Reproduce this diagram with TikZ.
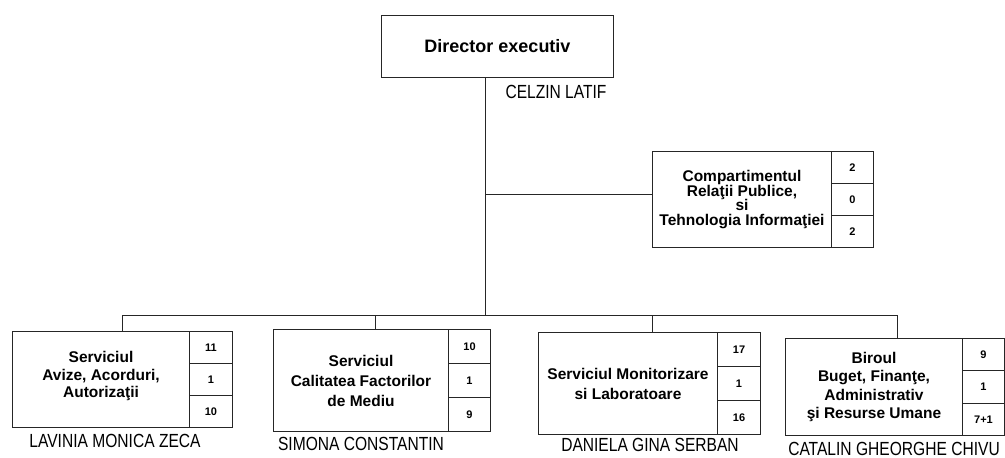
\documentclass[tikz,border=0pt]{standalone}
\usepackage{fontspec}
\setmainfont{Liberation Sans}
\newfontfamily\namefont[FakeStretch=0.82]{Liberation Sans}
\tikzset{
 line/.style={draw=black!85, line width=1pt},
 txtbox/.style={draw=black!85, line width=1pt, anchor=north west, inner sep=2pt, align=center, font=\bfseries\fontsize{15.5}{19}\selectfont},
 cell/.style={draw=black!85, line width=1pt, anchor=north west, inner sep=0pt, font=\bfseries\fontsize{11}{13}\selectfont},
 person/.style={font=\namefont\fontsize{19}{21}\selectfont, inner sep=0pt},
}
\begin{document}
\begin{tikzpicture}[x=1pt,y=-1pt]
\useasboundingbox (0,0) rectangle (1005,458);
% director
\node[txtbox, minimum width=232pt, minimum height=62pt, font=\bfseries\fontsize{18}{20}\selectfont] (dir) at (381,15) {Director executiv};
\node[person] (ndir) at (556,92) {CELZIN LATIF};
% compartiment
\node[txtbox, minimum width=179pt, minimum height=96pt, font=\bfseries\fontsize{15.5}{14.5}\selectfont] (comp) at (652,151) {Compartimentul\\Relaţii Publice,\\si\\Tehnologia Informaţiei};
\node[cell, minimum width=42pt, minimum height=32pt] (c1) at (831,151) {2};
\node[cell, minimum width=42pt, minimum height=32pt] (c2) at (831,183) {0};
\node[cell, minimum width=42pt, minimum height=32pt] (c3) at (831,215) {2};
% box 1
\node[txtbox, minimum width=177pt, minimum height=96pt, font=\bfseries\fontsize{15.5}{17.5}\selectfont] (b1) at (12,331) {Serviciul\\Avize, Acorduri,\\Autorizaţii\\[-8pt]};
\node[cell, minimum width=43pt, minimum height=32pt] (b1a) at (189,331) {11};
\node[cell, minimum width=43pt, minimum height=32pt] (b1b) at (189,363) {1};
\node[cell, minimum width=43pt, minimum height=32pt] (b1c) at (189,395) {10};
\node[person] (n1) at (115,441) {LAVINIA MONICA ZECA};
% box 2
\node[txtbox, minimum width=175pt, minimum height=102pt, font=\bfseries\fontsize{15.5}{20}\selectfont] (b2) at (273,329) {Serviciul\\Calitatea Factorilor\\de Mediu};
\node[cell, minimum width=42pt, minimum height=34pt] (b2a) at (448,329) {10};
\node[cell, minimum width=42pt, minimum height=34pt] (b2b) at (448,363) {1};
\node[cell, minimum width=42pt, minimum height=34pt] (b2c) at (448,397) {9};
\node[person] (n2) at (361,444) {SIMONA CONSTANTIN};
% box 3
\node[txtbox, minimum width=179pt, minimum height=102pt, font=\bfseries\fontsize{15.5}{20}\selectfont] (b3) at (538,332) {Serviciul Monitorizare\\si Laboratoare};
\node[cell, minimum width=43pt, minimum height=34pt] (b3a) at (717,332) {17};
\node[cell, minimum width=43pt, minimum height=34pt] (b3b) at (717,366) {1};
\node[cell, minimum width=43pt, minimum height=34pt] (b3c) at (717,400) {16};
\node[person] (n3) at (650,445) {DANIELA GINA SERBAN};
% box 4
\node[txtbox, minimum width=177pt, minimum height=97pt, font=\bfseries\fontsize{15.5}{18.5}\selectfont] (b4) at (785,338) {Biroul\\Buget, Finanţe,\\Administrativ\\şi Resurse Umane};
\node[cell, minimum width=42pt, minimum height=32pt] (b4a) at (962,338) {9};
\node[cell, minimum width=42pt, minimum height=33pt] (b4b) at (962,370) {1};
\node[cell, minimum width=42pt, minimum height=32pt] (b4c) at (962,403) {7+1};
\node[person] (n4) at (894,449) {CATALIN GHEORGHE CHIVU};
% connectors
\coordinate (trunk) at (485,315);
\coordinate (busL) at (122,315);
\coordinate (busR) at (897,315);
\coordinate (d2) at (375,315);
\coordinate (d3) at (652,315);
\coordinate (br) at (485,194);
\draw[line] (trunk |- dir.south) -- (trunk);
\draw[line] (br) -- (br -| comp.west);
\draw[line] (b1.north -| busL) -- (busL) -- (busR) -- (b4.north -| busR);
\draw[line] (d2) -- (d2 |- b2.north);
\draw[line] (d3) -- (d3 |- b3.north);
\end{tikzpicture}
\end{document}
